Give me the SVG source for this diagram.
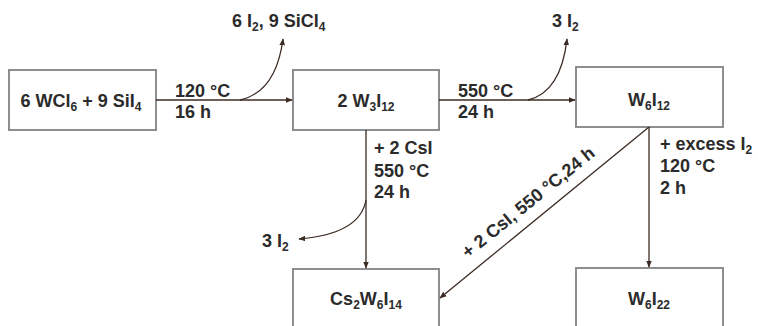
<svg xmlns="http://www.w3.org/2000/svg" width="758" height="326" viewBox="0 0 758 326">
<defs>
<style>
.box{fill:#fff;stroke:#8c8f92;stroke-width:2}
.ln{fill:none;stroke:#3b2b22;stroke-width:1.3}
text{font-family:"Liberation Sans",Arial,sans-serif;font-weight:bold;font-size:18px;fill:#2b2b2b}
.c{text-anchor:middle}
.s{font-size:12px}
</style>
<marker id="ah" viewBox="0 0 10 10" refX="9" refY="5" markerWidth="7" markerHeight="7" markerUnits="userSpaceOnUse" orient="auto">
<path d="M0,1 L10,5 L0,9 Z" fill="#3b2b22"/>
</marker>
</defs>
<rect width="758" height="326" fill="#fff"/>
<g id="n1"><rect class="box" x="9" y="70" width="147" height="60"/>
<text class="c" x="81" y="107">6 WCl<tspan class="s" dy="4">6</tspan><tspan dy="-4"> + 9 SiI</tspan><tspan class="s" dy="4">4</tspan></text></g>
<g id="n2"><rect class="box" x="293" y="70" width="146" height="60"/>
<text class="c" x="366" y="107">2 W<tspan class="s" dy="4">3</tspan><tspan dy="-4">I</tspan><tspan class="s" dy="4">12</tspan></text></g>
<g id="n3"><rect class="box" x="576" y="67" width="147" height="60"/>
<text class="c" x="649" y="106">W<tspan class="s" dy="4">6</tspan><tspan dy="-4">I</tspan><tspan class="s" dy="4">12</tspan></text></g>
<g id="n4"><rect class="box" x="293" y="269" width="146" height="70"/>
<text class="c" x="366" y="305">Cs<tspan class="s" dy="4">2</tspan><tspan dy="-4">W</tspan><tspan class="s" dy="4">6</tspan><tspan dy="-4">I</tspan><tspan class="s" dy="4">14</tspan></text></g>
<g id="n5"><rect class="box" x="576" y="268" width="147" height="70"/>
<text class="c" x="649" y="305">W<tspan class="s" dy="4">6</tspan><tspan dy="-4">I</tspan><tspan class="s" dy="4">22</tspan></text></g>
<g id="connectors">
<line class="ln" x1="156" y1="100" x2="292" y2="100" marker-end="url(#ah)"/>
<path class="ln" d="M240,100 Q276,92 283,39" marker-end="url(#ah)"/>
<line class="ln" x1="439" y1="100" x2="575" y2="100" marker-end="url(#ah)"/>
<path class="ln" d="M528,100 Q561,92 567,39" marker-end="url(#ah)"/>
<line class="ln" x1="366" y1="130" x2="366" y2="268" marker-end="url(#ah)"/>
<path class="ln" d="M366,200 Q360,234 299,239" marker-end="url(#ah)"/>
<line class="ln" x1="649" y1="127" x2="649" y2="267" marker-end="url(#ah)"/>
<line class="ln" x1="649" y1="127" x2="440" y2="298" marker-end="url(#ah)"/>
</g>
<g id="labels">
<text x="175" y="97">120 °C</text>
<text x="175" y="118">16 h</text>
<text x="232" y="27">6 I<tspan class="s" dy="4">2</tspan><tspan dy="-4">, 9 SiCl</tspan><tspan class="s" dy="4">4</tspan></text>
<text x="458" y="97">550 °C</text>
<text x="458" y="118">24 h</text>
<text x="552" y="27">3 I<tspan class="s" dy="4">2</tspan></text>
<text x="374" y="154">+ 2 CsI</text>
<text x="374" y="177">550 °C</text>
<text x="374" y="198">24 h</text>
<text x="262" y="247">3 I<tspan class="s" dy="4">2</tspan></text>
<text x="660" y="150">+ excess I<tspan class="s" dy="4">2</tspan></text>
<text x="660" y="172">120 °C</text>
<text x="660" y="194">2 h</text>
<text class="c" transform="translate(532,207) rotate(-39)">+ 2 CsI, 550 °C,24 h</text>
</g>
</svg>
